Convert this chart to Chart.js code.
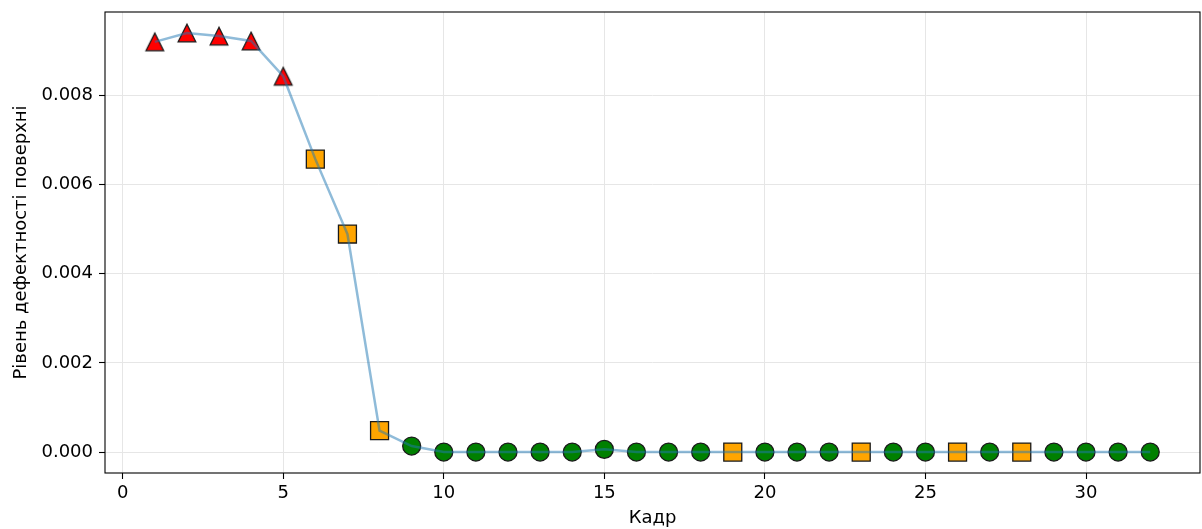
<!DOCTYPE html>
<html>
<head>
<meta charset="utf-8">
<script src="https://cdn.jsdelivr.net/npm/chart.js@4/dist/chart.umd.min.js"></script>
<style>
  html, body { margin: 0; padding: 0; background: #fff; }
  #wrap { width: 1202px; height: 529px; position: relative; }
</style>
</head>
<body>
<div id="wrap"><canvas id="c" width="1202" height="529"></canvas></div>
<script>
// ---- data ----
const frames = [1,2,3,4,5,6,7,8,9,10,11,12,13,14,15,16,17,18,19,20,21,22,23,24,25,26,27,28,29,30,31,32];
const defectLevel = [0.0092, 0.0094, 0.00933, 0.00922, 0.00843, 0.00657, 0.00489, 0.00048, 0.000135,
  0, 0, 0, 0, 0, 0.00006, 0, 0, 0, 0, 0, 0, 0, 0, 0, 0, 0, 0, 0, 0, 0, 0, 0];
const status = ['high','high','high','high','high','mid','mid','mid','low',
  'low','low','low','low','low','low','low','low','low','mid','low','low','low','mid','low','low','mid','low','mid','low','low','low','low'];
const xTicks = [0, 5, 10, 15, 20, 25, 30];
const yTicks = [0, 0.002, 0.004, 0.006, 0.008];
const xLabel = 'Кадр';
const yLabel = 'Рівень дефектності поверхні';

// ---- marker styles ----
function triangleImage() {
  const c = document.createElement('canvas');
  c.width = 22; c.height = 22;
  const g = c.getContext('2d');
  g.beginPath();
  g.moveTo(11, 2.2);
  g.lineTo(2.2, 19.8);
  g.lineTo(19.8, 19.8);
  g.closePath();
  g.fillStyle = '#ff0000';
  g.fill();
  g.lineWidth = 1.3;
  g.strokeStyle = '#1a1a1a';
  g.stroke();
  return c;
}
const triImg = triangleImage();
const styleMap = {
  high: { style: triImg, color: '#ff0000', radius: 10 },
  mid:  { style: 'rect', color: '#ffa500', radius: 12.7 },
  low:  { style: 'circle', color: '#008000', radius: 9 }
};

const pts = frames.map((f, i) => ({ x: f, y: defectLevel[i] }));

const frame = {
  id: 'frame',
  afterDatasetsDraw(chart) {
    const { ctx, chartArea: a } = chart;
    ctx.save();
    ctx.strokeStyle = '#000';
    ctx.lineWidth = 1.1;
    ctx.strokeRect(a.left, a.top, a.right - a.left, a.bottom - a.top);
    ctx.restore();
  }
};

const font = { family: '"DejaVu Sans", sans-serif', size: 18 };

new Chart(document.getElementById('c'), {
  type: 'scatter',
  data: {
    datasets: [
      {
        data: pts,
        showLine: true,
        borderColor: 'rgba(31,119,180,0.5)',
        borderWidth: 2.5,
        pointRadius: 0,
        pointHoverRadius: 0,
        fill: false,
        tension: 0
      },
      {
        data: pts,
        showLine: false,
        pointStyle: status.map(s => styleMap[s].style),
        backgroundColor: status.map(s => styleMap[s].color),
        pointBackgroundColor: status.map(s => styleMap[s].color),
        pointBorderColor: '#1a1a1a',
        pointBorderWidth: 1.3,
        pointRadius: status.map(s => styleMap[s].radius),
        pointHoverRadius: status.map(s => styleMap[s].radius)
      }
    ]
  },
  options: {
    responsive: false,
    animation: false,
    layout: { autoPadding: false, padding: { top: 12, right: 2, left: 0, bottom: 0 } },
    plugins: { legend: { display: false }, tooltip: { enabled: false } },
    scales: {
      x: {
        type: 'linear',
        min: -0.55,
        max: 33.55,
        afterBuildTicks: s => { s.ticks = xTicks.map(v => ({ value: v })); },
        afterFit: s => { s.height = 56; s.paddingLeft = 0; s.paddingRight = 0; },
        border: { display: false },
        grid: { color: '#e6e6e6', lineWidth: 1, drawTicks: true, tickLength: 6, tickColor: '#000', tickWidth: 1.1 },
        ticks: { font, color: '#000', padding: 4, maxRotation: 0, callback: v => String(v) },
        title: { display: true, text: xLabel, font, color: '#000', padding: { top: 0, bottom: 0 } }
      },
      y: {
        type: 'linear',
        min: -0.00047,
        max: 0.00987,
        afterBuildTicks: s => { s.ticks = yTicks.map(v => ({ value: v })); },
        afterFit: s => { s.width = 105; s.paddingTop = 0; s.paddingBottom = 0; },
        border: { display: false },
        grid: { color: '#e6e6e6', lineWidth: 1, drawTicks: true, tickLength: 6, tickColor: '#000', tickWidth: 1.1 },
        ticks: { font, color: '#000', padding: 6, callback: v => Number(v).toFixed(3) },
        title: { display: true, text: yLabel, font, color: '#000', padding: { top: 11, bottom: 0 } }
      }
    }
  },
  plugins: [frame]
});
</script>
</body>
</html>
